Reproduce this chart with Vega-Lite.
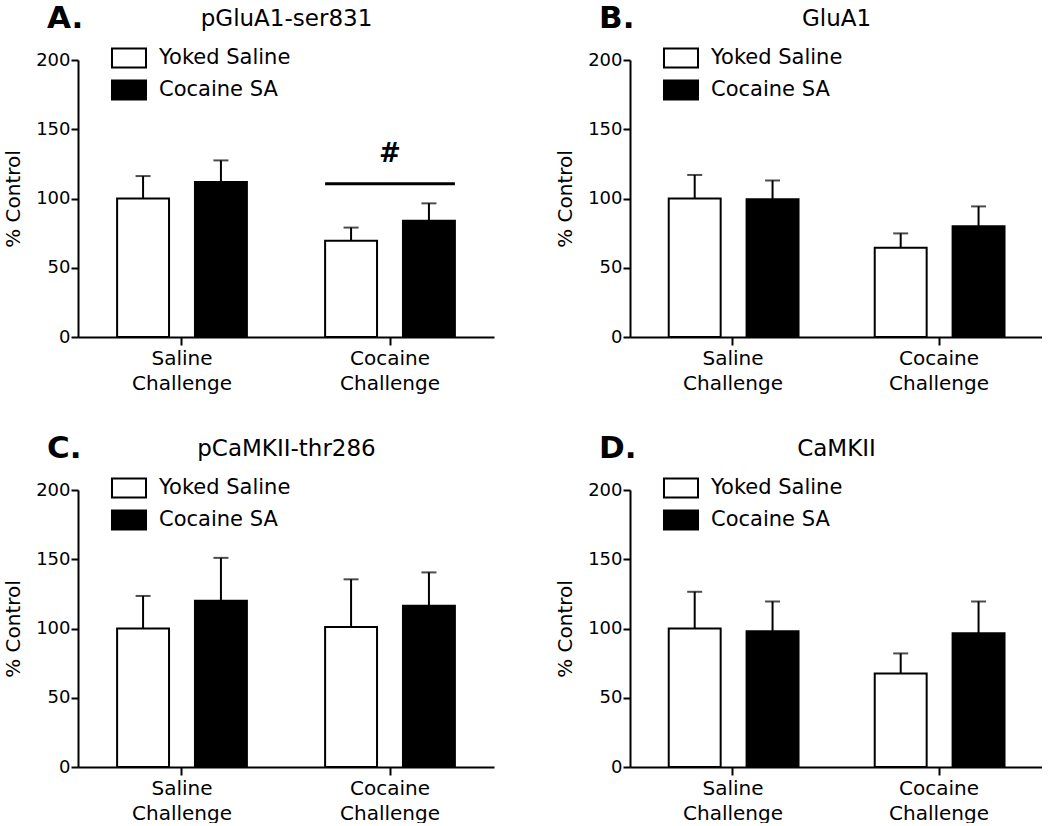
{
  "$schema": "https://vega.github.io/schema/vega-lite/v6.json",
  "padding": {"left": 3, "top": 3, "right": 0, "bottom": 0},
  "background": "white",
  "config": {
    "font": "DejaVu Sans",
    "view": {"stroke": null},
    "axis": {"labelFont": "DejaVu Sans", "titleFont": "DejaVu Sans", "labelColor": "black", "titleColor": "black", "domainColor": "black", "tickColor": "black", "domainWidth": 2, "tickWidth": 2, "grid": false, "titleFontWeight": "normal"},
    "title": {"font": "DejaVu Sans", "color": "black"}
  },
  "datasets": {
    "bars": [
      {"panel": "A", "challenge": "Saline Challenge", "group": "Yoked Saline", "mean": 100, "err": 116.2},
      {"panel": "A", "challenge": "Saline Challenge", "group": "Cocaine SA", "mean": 112, "err": 127.5},
      {"panel": "A", "challenge": "Cocaine Challenge", "group": "Yoked Saline", "mean": 69.5, "err": 79},
      {"panel": "A", "challenge": "Cocaine Challenge", "group": "Cocaine SA", "mean": 84, "err": 96.5},
      {"panel": "B", "challenge": "Saline Challenge", "group": "Yoked Saline", "mean": 100, "err": 117},
      {"panel": "B", "challenge": "Saline Challenge", "group": "Cocaine SA", "mean": 99.5, "err": 113},
      {"panel": "B", "challenge": "Cocaine Challenge", "group": "Yoked Saline", "mean": 64.5, "err": 74.8},
      {"panel": "B", "challenge": "Cocaine Challenge", "group": "Cocaine SA", "mean": 80, "err": 94.3},
      {"panel": "C", "challenge": "Saline Challenge", "group": "Yoked Saline", "mean": 100, "err": 123.5},
      {"panel": "C", "challenge": "Saline Challenge", "group": "Cocaine SA", "mean": 120, "err": 151},
      {"panel": "C", "challenge": "Cocaine Challenge", "group": "Yoked Saline", "mean": 101, "err": 135.5},
      {"panel": "C", "challenge": "Cocaine Challenge", "group": "Cocaine SA", "mean": 116.5, "err": 140.5},
      {"panel": "D", "challenge": "Saline Challenge", "group": "Yoked Saline", "mean": 100, "err": 126.5},
      {"panel": "D", "challenge": "Saline Challenge", "group": "Cocaine SA", "mean": 98, "err": 119.5},
      {"panel": "D", "challenge": "Cocaine Challenge", "group": "Yoked Saline", "mean": 67.5, "err": 82},
      {"panel": "D", "challenge": "Cocaine Challenge", "group": "Cocaine SA", "mean": 96.5, "err": 119.5}
    ],
    "sig": [
      {"panel": "A", "challenge": "Cocaine Challenge", "line": 110.7, "hash": 132.3, "label": "#"}
    ]
  },
  "columns": 2,
  "spacing": {"row": 153, "column": 136},
  "bounds": "flush",
  "resolve": {"scale": {"fill": "independent"}, "legend": {"fill": "independent"}},
  "concat": [
    {
      "width": 416, "height": 277,
      "title": {"text": "A.", "anchor": "start", "frame": "group", "dx": -31, "offset": -28, "fontSize": 31, "fontWeight": "bold"},
      "data": {"name": "bars"},
      "transform": [{"filter": "datum.panel === 'A'"}],
      "layer": [
        {"mark": {"type": "bar", "stroke": "black", "strokeWidth": 2},
         "encoding": {
           "x": {"field": "challenge", "type": "nominal", "sort": ["Saline Challenge", "Cocaine Challenge"], "scale": {"paddingInner": 0.376, "paddingOuter": 0.188}, "axis": {"title": null, "labelAngle": 0, "labelExpr": "split(datum.label, ' ')", "labelFontSize": 20, "labelLineHeight": 25, "tickSize": 8, "labelPadding": 3}},
           "xOffset": {"field": "group", "type": "nominal", "sort": ["Yoked Saline", "Cocaine SA"], "scale": {"paddingInner": 0.333, "paddingOuter": 0}},
           "y": {"field": "mean", "type": "quantitative", "scale": {"domain": [0, 200]}, "axis": {"title": "% Control", "values": [0, 50, 100, 150, 200], "labelFontSize": 18, "tickSize": 7, "labelPadding": 1, "titleFontSize": 20, "titlePadding": 12}},
           "fill": {"field": "group", "type": "nominal", "scale": {"domain": ["Yoked Saline", "Cocaine SA"], "range": ["white", "black"]}, "legend": {"orient": "none", "legendX": 33, "legendY": -20, "title": null, "symbolType": "M-1,-0.56H1V0.56H-1Z", "symbolSize": 1156, "symbolStrokeColor": "black", "symbolStrokeWidth": 2, "labelFontSize": 21, "labelOffset": 12, "rowPadding": -1, "labelColor": "black", "labelFont": "DejaVu Sans"}}
         }},
        {"mark": {"type": "rule", "stroke": "black", "strokeWidth": 2},
         "encoding": {
           "x": {"field": "challenge", "type": "nominal", "sort": ["Saline Challenge", "Cocaine Challenge"], "scale": {"paddingInner": 0.376, "paddingOuter": 0.188}, "axis": {"orient": "top", "title": "pGluA1-ser831", "domain": false, "ticks": false, "labels": false, "titleFontSize": 23, "titlePadding": 30}},
           "xOffset": {"field": "group", "type": "nominal", "sort": ["Yoked Saline", "Cocaine SA"], "scale": {"paddingInner": 0.333, "paddingOuter": 0}},
           "y": {"field": "mean", "type": "quantitative", "scale": {"domain": [0, 200]}, "axis": {"title": "% Control", "values": [0, 50, 100, 150, 200], "labelFontSize": 18, "tickSize": 7, "labelPadding": 1, "titleFontSize": 20, "titlePadding": 12}},
           "y2": {"field": "err"}
         }},
        {"mark": {"type": "tick", "color": "black", "thickness": 2, "size": 15},
         "encoding": {
           "x": {"field": "challenge", "type": "nominal", "sort": ["Saline Challenge", "Cocaine Challenge"], "axis": null},
           "xOffset": {"field": "group", "type": "nominal", "sort": ["Yoked Saline", "Cocaine SA"]},
           "y": {"field": "err", "type": "quantitative", "scale": {"domain": [0, 200]}, "axis": {"title": "% Control", "values": [0, 50, 100, 150, 200], "labelFontSize": 18, "tickSize": 7, "labelPadding": 1, "titleFontSize": 20, "titlePadding": 12}}
         }},
        {"data": {"name": "sig"},
         "mark": {"type": "rule", "stroke": "black", "strokeWidth": 3},
         "encoding": {
           "x": {"field": "challenge", "type": "nominal", "sort": ["Saline Challenge", "Cocaine Challenge"], "bandPosition": 0, "axis": null},
           "x2": {"field": "challenge", "bandPosition": 1},
           "y": {"field": "line", "type": "quantitative", "scale": {"domain": [0, 200]}, "axis": {"title": "% Control", "values": [0, 50, 100, 150, 200], "labelFontSize": 18, "tickSize": 7, "labelPadding": 1, "titleFontSize": 20, "titlePadding": 12}}
         }},
        {"data": {"name": "sig"},
         "mark": {"type": "text", "fontSize": 26, "fontWeight": "bold", "baseline": "middle", "color": "black"},
         "encoding": {
           "x": {"field": "challenge", "type": "nominal", "sort": ["Saline Challenge", "Cocaine Challenge"], "axis": null},
           "y": {"field": "hash", "type": "quantitative", "scale": {"domain": [0, 200]}, "axis": {"title": "% Control", "values": [0, 50, 100, 150, 200], "labelFontSize": 18, "tickSize": 7, "labelPadding": 1, "titleFontSize": 20, "titlePadding": 12}},
           "text": {"field": "label"}
         }}
      ],
      "resolve": {"axis": {"x": "independent"}}
    },
    {
      "width": 412, "height": 277,
      "title": {"text": "B.", "anchor": "start", "frame": "group", "dx": -31, "offset": -28, "fontSize": 31, "fontWeight": "bold"},
      "data": {"name": "bars"},
      "transform": [{"filter": "datum.panel === 'B'"}],
      "layer": [
        {"mark": {"type": "bar", "stroke": "black", "strokeWidth": 2},
         "encoding": {
           "x": {"field": "challenge", "type": "nominal", "sort": ["Saline Challenge", "Cocaine Challenge"], "scale": {"paddingInner": 0.376, "paddingOuter": 0.188}, "axis": {"title": null, "labelAngle": 0, "labelExpr": "split(datum.label, ' ')", "labelFontSize": 20, "labelLineHeight": 25, "tickSize": 8, "labelPadding": 3}},
           "xOffset": {"field": "group", "type": "nominal", "sort": ["Yoked Saline", "Cocaine SA"], "scale": {"paddingInner": 0.333, "paddingOuter": 0}},
           "y": {"field": "mean", "type": "quantitative", "scale": {"domain": [0, 200]}, "axis": {"title": "% Control", "values": [0, 50, 100, 150, 200], "labelFontSize": 18, "tickSize": 7, "labelPadding": 1, "titleFontSize": 20, "titlePadding": 12}},
           "fill": {"field": "group", "type": "nominal", "scale": {"domain": ["Yoked Saline", "Cocaine SA"], "range": ["white", "black"]}, "legend": {"orient": "none", "legendX": 33, "legendY": -20, "title": null, "symbolType": "M-1,-0.56H1V0.56H-1Z", "symbolSize": 1156, "symbolStrokeColor": "black", "symbolStrokeWidth": 2, "labelFontSize": 21, "labelOffset": 12, "rowPadding": -1, "labelColor": "black", "labelFont": "DejaVu Sans"}}
         }},
        {"mark": {"type": "rule", "stroke": "black", "strokeWidth": 2},
         "encoding": {
           "x": {"field": "challenge", "type": "nominal", "sort": ["Saline Challenge", "Cocaine Challenge"], "scale": {"paddingInner": 0.376, "paddingOuter": 0.188}, "axis": {"orient": "top", "title": "GluA1", "domain": false, "ticks": false, "labels": false, "titleFontSize": 23, "titlePadding": 30}},
           "xOffset": {"field": "group", "type": "nominal", "sort": ["Yoked Saline", "Cocaine SA"], "scale": {"paddingInner": 0.333, "paddingOuter": 0}},
           "y": {"field": "mean", "type": "quantitative", "scale": {"domain": [0, 200]}, "axis": {"title": "% Control", "values": [0, 50, 100, 150, 200], "labelFontSize": 18, "tickSize": 7, "labelPadding": 1, "titleFontSize": 20, "titlePadding": 12}},
           "y2": {"field": "err"}
         }},
        {"mark": {"type": "tick", "color": "black", "thickness": 2, "size": 15},
         "encoding": {
           "x": {"field": "challenge", "type": "nominal", "sort": ["Saline Challenge", "Cocaine Challenge"], "axis": null},
           "xOffset": {"field": "group", "type": "nominal", "sort": ["Yoked Saline", "Cocaine SA"]},
           "y": {"field": "err", "type": "quantitative", "scale": {"domain": [0, 200]}, "axis": {"title": "% Control", "values": [0, 50, 100, 150, 200], "labelFontSize": 18, "tickSize": 7, "labelPadding": 1, "titleFontSize": 20, "titlePadding": 12}}
         }}
      ],
      "resolve": {"axis": {"x": "independent"}}
    },
    {
      "width": 416, "height": 277,
      "title": {"text": "C.", "anchor": "start", "frame": "group", "dx": -31, "offset": -28, "fontSize": 31, "fontWeight": "bold"},
      "data": {"name": "bars"},
      "transform": [{"filter": "datum.panel === 'C'"}],
      "layer": [
        {"mark": {"type": "bar", "stroke": "black", "strokeWidth": 2},
         "encoding": {
           "x": {"field": "challenge", "type": "nominal", "sort": ["Saline Challenge", "Cocaine Challenge"], "scale": {"paddingInner": 0.376, "paddingOuter": 0.188}, "axis": {"title": null, "labelAngle": 0, "labelExpr": "split(datum.label, ' ')", "labelFontSize": 20, "labelLineHeight": 25, "tickSize": 8, "labelPadding": 3}},
           "xOffset": {"field": "group", "type": "nominal", "sort": ["Yoked Saline", "Cocaine SA"], "scale": {"paddingInner": 0.333, "paddingOuter": 0}},
           "y": {"field": "mean", "type": "quantitative", "scale": {"domain": [0, 200]}, "axis": {"title": "% Control", "values": [0, 50, 100, 150, 200], "labelFontSize": 18, "tickSize": 7, "labelPadding": 1, "titleFontSize": 20, "titlePadding": 12}},
           "fill": {"field": "group", "type": "nominal", "scale": {"domain": ["Yoked Saline", "Cocaine SA"], "range": ["white", "black"]}, "legend": {"orient": "none", "legendX": 33, "legendY": -20, "title": null, "symbolType": "M-1,-0.56H1V0.56H-1Z", "symbolSize": 1156, "symbolStrokeColor": "black", "symbolStrokeWidth": 2, "labelFontSize": 21, "labelOffset": 12, "rowPadding": -1, "labelColor": "black", "labelFont": "DejaVu Sans"}}
         }},
        {"mark": {"type": "rule", "stroke": "black", "strokeWidth": 2},
         "encoding": {
           "x": {"field": "challenge", "type": "nominal", "sort": ["Saline Challenge", "Cocaine Challenge"], "scale": {"paddingInner": 0.376, "paddingOuter": 0.188}, "axis": {"orient": "top", "title": "pCaMKII-thr286", "domain": false, "ticks": false, "labels": false, "titleFontSize": 23, "titlePadding": 30}},
           "xOffset": {"field": "group", "type": "nominal", "sort": ["Yoked Saline", "Cocaine SA"], "scale": {"paddingInner": 0.333, "paddingOuter": 0}},
           "y": {"field": "mean", "type": "quantitative", "scale": {"domain": [0, 200]}, "axis": {"title": "% Control", "values": [0, 50, 100, 150, 200], "labelFontSize": 18, "tickSize": 7, "labelPadding": 1, "titleFontSize": 20, "titlePadding": 12}},
           "y2": {"field": "err"}
         }},
        {"mark": {"type": "tick", "color": "black", "thickness": 2, "size": 15},
         "encoding": {
           "x": {"field": "challenge", "type": "nominal", "sort": ["Saline Challenge", "Cocaine Challenge"], "axis": null},
           "xOffset": {"field": "group", "type": "nominal", "sort": ["Yoked Saline", "Cocaine SA"]},
           "y": {"field": "err", "type": "quantitative", "scale": {"domain": [0, 200]}, "axis": {"title": "% Control", "values": [0, 50, 100, 150, 200], "labelFontSize": 18, "tickSize": 7, "labelPadding": 1, "titleFontSize": 20, "titlePadding": 12}}
         }}
      ],
      "resolve": {"axis": {"x": "independent"}}
    },
    {
      "width": 412, "height": 277,
      "title": {"text": "D.", "anchor": "start", "frame": "group", "dx": -31, "offset": -28, "fontSize": 31, "fontWeight": "bold"},
      "data": {"name": "bars"},
      "transform": [{"filter": "datum.panel === 'D'"}],
      "layer": [
        {"mark": {"type": "bar", "stroke": "black", "strokeWidth": 2},
         "encoding": {
           "x": {"field": "challenge", "type": "nominal", "sort": ["Saline Challenge", "Cocaine Challenge"], "scale": {"paddingInner": 0.376, "paddingOuter": 0.188}, "axis": {"title": null, "labelAngle": 0, "labelExpr": "split(datum.label, ' ')", "labelFontSize": 20, "labelLineHeight": 25, "tickSize": 8, "labelPadding": 3}},
           "xOffset": {"field": "group", "type": "nominal", "sort": ["Yoked Saline", "Cocaine SA"], "scale": {"paddingInner": 0.333, "paddingOuter": 0}},
           "y": {"field": "mean", "type": "quantitative", "scale": {"domain": [0, 200]}, "axis": {"title": "% Control", "values": [0, 50, 100, 150, 200], "labelFontSize": 18, "tickSize": 7, "labelPadding": 1, "titleFontSize": 20, "titlePadding": 12}},
           "fill": {"field": "group", "type": "nominal", "scale": {"domain": ["Yoked Saline", "Cocaine SA"], "range": ["white", "black"]}, "legend": {"orient": "none", "legendX": 33, "legendY": -20, "title": null, "symbolType": "M-1,-0.56H1V0.56H-1Z", "symbolSize": 1156, "symbolStrokeColor": "black", "symbolStrokeWidth": 2, "labelFontSize": 21, "labelOffset": 12, "rowPadding": -1, "labelColor": "black", "labelFont": "DejaVu Sans"}}
         }},
        {"mark": {"type": "rule", "stroke": "black", "strokeWidth": 2},
         "encoding": {
           "x": {"field": "challenge", "type": "nominal", "sort": ["Saline Challenge", "Cocaine Challenge"], "scale": {"paddingInner": 0.376, "paddingOuter": 0.188}, "axis": {"orient": "top", "title": "CaMKII", "domain": false, "ticks": false, "labels": false, "titleFontSize": 23, "titlePadding": 30}},
           "xOffset": {"field": "group", "type": "nominal", "sort": ["Yoked Saline", "Cocaine SA"], "scale": {"paddingInner": 0.333, "paddingOuter": 0}},
           "y": {"field": "mean", "type": "quantitative", "scale": {"domain": [0, 200]}, "axis": {"title": "% Control", "values": [0, 50, 100, 150, 200], "labelFontSize": 18, "tickSize": 7, "labelPadding": 1, "titleFontSize": 20, "titlePadding": 12}},
           "y2": {"field": "err"}
         }},
        {"mark": {"type": "tick", "color": "black", "thickness": 2, "size": 15},
         "encoding": {
           "x": {"field": "challenge", "type": "nominal", "sort": ["Saline Challenge", "Cocaine Challenge"], "axis": null},
           "xOffset": {"field": "group", "type": "nominal", "sort": ["Yoked Saline", "Cocaine SA"]},
           "y": {"field": "err", "type": "quantitative", "scale": {"domain": [0, 200]}, "axis": {"title": "% Control", "values": [0, 50, 100, 150, 200], "labelFontSize": 18, "tickSize": 7, "labelPadding": 1, "titleFontSize": 20, "titlePadding": 12}}
         }}
      ],
      "resolve": {"axis": {"x": "independent"}}
    }
  ]
}
